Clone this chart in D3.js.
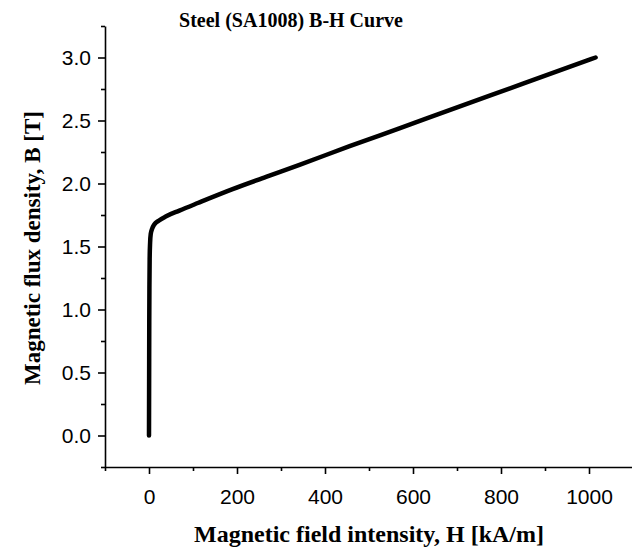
<!DOCTYPE html>
<html>
<head>
<meta charset="utf-8">
<script src="https://cdn.jsdelivr.net/npm/d3@7"></script>
<style>
  html, body { margin: 0; padding: 0; background: #fff; }
  svg { display: block; }
  .tick text { font-family: "Liberation Sans", Arial, sans-serif; font-size: 21px; fill: #000; }
  .title, .axis-title { font-family: "Liberation Serif", "Times New Roman", serif; font-weight: bold; fill: #000; }
</style>
</head>
<body>
<svg id="chart" width="632" height="549"></svg>
<script>
// B-H magnetisation curve of SA1008 steel
const fieldH = [0, 0.3, 0.6, 1.0, 1.5, 2.5, 4, 7, 12, 22, 39, 69, 111, 190, 266, 342, 456, 569, 683, 850, 1015]; // kA/m
const fluxB  = [0, 0.45, 0.9, 1.2, 1.4, 1.53, 1.6, 1.64, 1.675, 1.705, 1.74, 1.785, 1.845, 1.955, 2.052, 2.148, 2.296, 2.438, 2.582, 2.792, 3.0]; // T

const xMajorTicks = [0, 200, 400, 600, 800, 1000];
const xMinorTicks = [-100, 100, 300, 500, 700, 900, 1100];
const yMajorTicks = [0, 0.5, 1.0, 1.5, 2.0, 2.5, 3.0];
const yMinorTicks = [-0.25, 0.25, 0.75, 1.25, 1.75, 2.25, 2.75, 3.25];

const titleText = "Steel (SA1008) B-H Curve";
const xLabel = "Magnetic field intensity, H [kA/m]";
const yLabel = "Magnetic flux density, B [T]";

const svg = d3.select("#chart");
const x = d3.scaleLinear().domain([-100, 1100]).range([105, 633]);
const y = d3.scaleLinear().domain([-0.25, 3.25]).range([467, 26]);

const axisStroke = 1.6;

// x axis
const gx = svg.append("g").attr("transform", `translate(0,${y(-0.25)})`);
gx.call(d3.axisBottom(x).tickValues(xMinorTicks).tickSize(4).tickSizeOuter(0).tickFormat(""));
gx.call(g => g.select(".domain").remove());
const gxMajor = svg.append("g").attr("transform", `translate(0,${y(-0.25)})`);
gxMajor.call(d3.axisBottom(x).tickValues(xMajorTicks).tickSize(7).tickSizeOuter(0).tickPadding(15).tickFormat(d3.format("d")));

// y axis
const gy = svg.append("g").attr("transform", `translate(${x(-100)},0)`);
gy.call(d3.axisLeft(y).tickValues(yMinorTicks).tickSize(4).tickSizeOuter(0).tickFormat(""));
gy.call(g => g.select(".domain").remove());
const gyMajor = svg.append("g").attr("transform", `translate(${x(-100)},0)`);
gyMajor.call(d3.axisLeft(y).tickValues(yMajorTicks).tickSize(7).tickSizeOuter(0).tickPadding(7).tickFormat(d3.format(".1f")));

svg.selectAll(".domain, .tick line").attr("stroke", "#000").attr("stroke-width", axisStroke);

// curve
const line = d3.line().x((d, i) => x(fieldH[i])).y(d => y(d)).curve(d3.curveMonotoneX);
svg.append("path")
  .datum(fluxB)
  .attr("d", line)
  .attr("fill", "none")
  .attr("stroke", "#000")
  .attr("stroke-width", 4.5)
  .attr("stroke-linecap", "round")
  .attr("stroke-linejoin", "round");

// titles
svg.append("text").attr("class", "title")
  .attr("x", 291).attr("y", 27).attr("text-anchor", "middle")
  .style("font-size", "20px").text(titleText);

svg.append("text").attr("class", "axis-title")
  .attr("x", 369).attr("y", 542).attr("text-anchor", "middle")
  .style("font-size", "24px").text(xLabel);

svg.append("text").attr("class", "axis-title")
  .attr("transform", "translate(40,248) rotate(-90)")
  .attr("text-anchor", "middle")
  .style("font-size", "23px").text(yLabel);
</script>
</body>
</html>
